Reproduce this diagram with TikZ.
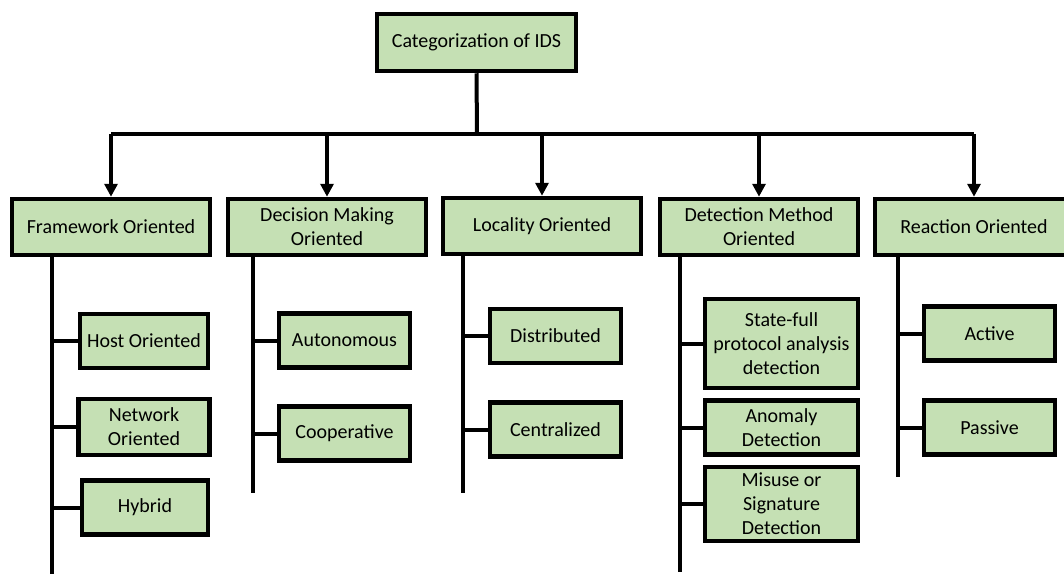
\documentclass[tikz,border=0pt]{standalone}
\usepackage{fontspec}
\setmainfont{Carlito}
\usepackage{xcolor}
\usepackage{tikz}
\usetikzlibrary{arrows.meta,positioning,calc}

\definecolor{boxgreen}{HTML}{C5E0B4}

\begin{document}
\begin{tikzpicture}[
  x=1pt, y=-1pt,
  font=\fontsize{20}{24}\selectfont,
  box/.style={draw, line width=4.5pt, fill=boxgreen, align=center, inner sep=2pt},
  top/.style={box, minimum width=198, minimum height=56},
  leaf/.style={box, minimum width=131, minimum height=54},
  wideleaf/.style={box, minimum width=153, minimum height=54},
  conn/.style={line width=4pt},
  arr/.style={conn, -{Triangle[width=13pt,length=13pt]}},
]
\useasboundingbox (0,0) rectangle (1064,573);
\clip (0,0) rectangle (1064,573);

% root
\node[box, minimum width=199, minimum height=57] (ids) at (476.5,42.5) {Categorization of IDS};

% first level
\node[top] (frame) at (111,227) {Framework Oriented};
\node[top] (decide) at (327,227) {Decision Making\\Oriented};
\node[top] (local) at (542,226) {Locality Oriented};
\node[top] (detect) at (759,227) {Detection Method\\Oriented};
\node[top] (react) at (974,227) {Reaction Oriented};

% second level
\node[leaf, minimum width=128] (host) at (144,341) {Host Oriented};
\node[leaf, minimum height=56] (network) at (144,427) {Network\\Oriented};
\node[leaf, minimum width=126] (hybrid) at (145,507.5) {Hybrid};

\node[leaf] (auto) at (344.5,340.5) {Autonomous};
\node[leaf] (coop) at (344.5,433.5) {Cooperative};

\node[leaf] (distr) at (555.5,336) {Distributed};
\node[leaf] (central) at (555.5,429.5) {Centralized};

\node[wideleaf, minimum height=89] (stateful) at (781.5,343.5) {State-full\\protocol analysis\\detection};
\node[wideleaf] (anomaly) at (781.5,427.5) {Anomaly\\Detection};
\node[wideleaf, minimum height=74] (misuse) at (781.5,504) {Misuse or\\Signature\\Detection};

\node[leaf] (active) at (989.5,333.5) {Active};
\node[leaf] (passive) at (989.5,427.5) {Passive};

% bus from the root
\coordinate (bus) at (477,134);
\draw[conn] (ids.south) -- (bus);
\draw[conn] (frame.north |- bus) -- (react.north |- bus);
\draw[arr] (frame.north |- bus) -- (frame.north);
\draw[arr] (decide.north |- bus) -- (decide.north);
\draw[arr] (local.north |- bus) -- (local.north);
\draw[arr] (detect.north |- bus) -- (detect.north);
\draw[arr] (react.north |- bus) -- (react.north);

% spines
\coordinate (frameend) at (52,575);
\coordinate (decideend) at (253,493);
\coordinate (localend) at (463,493);
\coordinate (detectend) at (680,572);
\coordinate (reactend) at (898,477);
\draw[conn] (frame.south -| frameend) -- (frameend);
\draw[conn] (decide.south -| decideend) -- (decideend);
\draw[conn] (local.south -| localend) -- (localend);
\draw[conn] (detect.south -| detectend) -- (detectend);
\draw[conn] (react.south -| reactend) -- (reactend);

% branches
\draw[conn] (host.west -| frameend) -- (host.west);
\draw[conn] (network.west -| frameend) -- (network.west);
\draw[conn] (hybrid.west -| frameend) -- (hybrid.west);
\draw[conn] (auto.west -| decideend) -- (auto.west);
\draw[conn] (coop.west -| decideend) -- (coop.west);
\draw[conn] (distr.west -| localend) -- (distr.west);
\draw[conn] (central.west -| localend) -- (central.west);
\draw[conn] (stateful.west -| detectend) -- (stateful.west);
\draw[conn] (anomaly.west -| detectend) -- (anomaly.west);
\draw[conn] (misuse.west -| detectend) -- (misuse.west);
\draw[conn] (active.west -| reactend) -- (active.west);
\draw[conn] (passive.west -| reactend) -- (passive.west);
\end{tikzpicture}
\end{document}
